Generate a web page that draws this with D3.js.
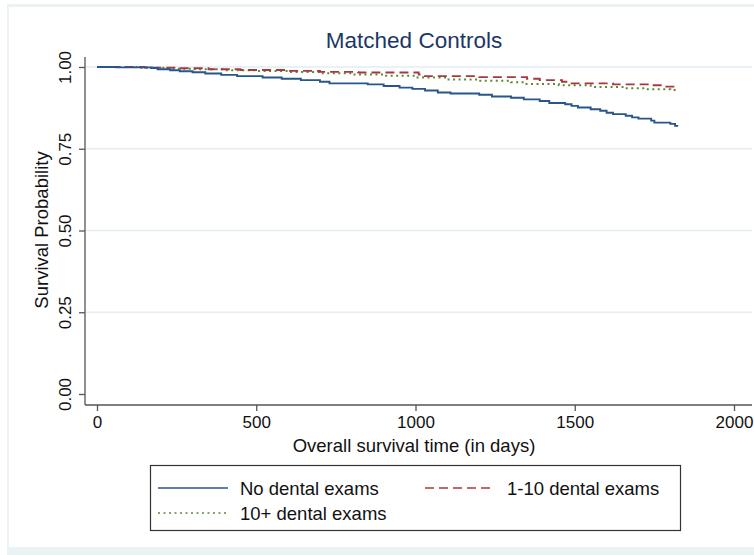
<!DOCTYPE html>
<html><head><meta charset="utf-8">
<script src="https://cdn.jsdelivr.net/npm/d3@7"></script>
<style>body{margin:0;background:#fff}svg{display:block}text{font-family:"Liberation Sans",Arial,sans-serif}</style>
</head><body>
<script>
// ---- data (step changes of Kaplan-Meier curves) ----
const seriesNames = ["No dental exams", "1-10 dental exams", "10+ dental exams"];
const noExamDays = [0,60,170,190,230,260,300,340,390,440,520,580,640,700,730,850,900,950,990,1030,1070,1110,1200,1240,1300,1340,1390,1420,1470,1490,1510,1550,1580,1600,1620,1660,1680,1700,1740,1750,1800,1815,1825];
const noExamSurv = [1.000,0.999,0.997,0.993,0.990,0.987,0.984,0.980,0.976,0.972,0.968,0.964,0.960,0.955,0.950,0.947,0.942,0.937,0.933,0.928,0.922,0.919,0.915,0.910,0.906,0.901,0.896,0.890,0.886,0.881,0.876,0.871,0.866,0.860,0.856,0.851,0.846,0.842,0.836,0.830,0.826,0.820,0.820];
const lowExamDays = [0,150,250,350,450,600,700,820,1010,1020,1200,1350,1390,1460,1480,1620,1740,1780,1825];
const lowExamSurv = [1.000,0.998,0.996,0.993,0.991,0.988,0.985,0.983,0.977,0.972,0.969,0.964,0.960,0.955,0.950,0.947,0.944,0.940,0.940];
const highExamDays = [0,130,220,300,400,500,600,700,800,900,1000,1100,1200,1300,1340,1450,1550,1650,1720,1800,1825];
const highExamSurv = [1.000,0.998,0.995,0.993,0.990,0.988,0.985,0.981,0.977,0.973,0.968,0.962,0.958,0.953,0.948,0.944,0.939,0.935,0.932,0.930,0.930];
const xTicks = [0, 500, 1000, 1500, 2000];
const yTicks = [0, 0.25, 0.5, 0.75, 1];
const yTickLabels = ["0.00", "0.25", "0.50", "0.75", "1.00"];

const W = 754, H = 555;
const svg = d3.select("body").append("svg").attr("width", W).attr("height", H);

// frame
svg.append("rect").attr("x", 7).attr("y", 4).attr("width", W).attr("height", H).attr("fill", "#eaf2f4");
svg.append("rect").attr("x", 9).attr("y", 7).attr("width", W).attr("height", 540).attr("fill", "#fff");

const x = d3.scaleLinear().domain([0, 2000]).range([97, 734]);
const y = d3.scaleLinear().domain([0, 1]).range([394, 67]);

// grid
svg.append("g").selectAll("line").data(yTicks.filter(d => d > 0)).join("line")
  .attr("x1", 86).attr("x2", 752).attr("y1", d => y(d)).attr("y2", d => y(d))
  .attr("stroke", "#e3edf3").attr("stroke-width", 1.5);

// axes
const xAxis = d3.axisBottom(x).tickValues(xTicks).tickSize(6).tickPadding(5).tickFormat(d3.format("d"));
const gx = svg.append("g").attr("transform", "translate(0,405)").call(xAxis);
gx.select(".domain").attr("d", "M85,0H752").attr("stroke", "#555").attr("stroke-width", 1.3);
gx.selectAll(".tick line").attr("stroke", "#555").attr("stroke-width", 1.3);
gx.selectAll(".tick text").attr("font-size", 17).attr("fill", "#111").attr("font-family", "Liberation Sans, Arial, sans-serif");

const yAxis = d3.axisLeft(y).tickValues(yTicks).tickSize(6).tickPadding(4).tickFormat((d, i) => yTickLabels[i]);
const gy = svg.append("g").attr("transform", "translate(85,0)").call(yAxis);
gy.select(".domain").attr("d", "M0,57V405").attr("stroke", "#555").attr("stroke-width", 1.3);
gy.selectAll(".tick line").attr("stroke", "#555").attr("stroke-width", 1.3);
gy.selectAll(".tick text").attr("font-size", 17).attr("fill", "#111").attr("font-family", "Liberation Sans, Arial, sans-serif")
  .attr("text-anchor", "middle").attr("transform", "translate(-20,0) rotate(-90)").attr("x", 0).attr("dy", "0.35em");

// titles
svg.append("text").attr("x", 414).attr("y", 48).attr("text-anchor", "middle").attr("font-size", 22.5)
  .attr("fill", "#1c3766").text("Matched Controls");
svg.append("text").attr("x", 414).attr("y", 452).attr("text-anchor", "middle").attr("font-size", 18.5)
  .attr("fill", "#111").text("Overall survival time (in days)");
svg.append("text").attr("transform", "translate(48,230) rotate(-90)").attr("text-anchor", "middle").attr("font-size", 18.5)
  .attr("fill", "#111").text("Survival Probability");

// curves
const styles = [
  {color: "#27568a", dash: null, w: 1.9},
  {color: "#a8383f", dash: "9,5", w: 1.9},
  {color: "#5b8a34", dash: "2,3.5", w: 2}
];
const series = [
  noExamDays.map((d, i) => [d, noExamSurv[i]]),
  lowExamDays.map((d, i) => [d, lowExamSurv[i]]),
  highExamDays.map((d, i) => [d, highExamSurv[i]])
];
const line = d3.line().x(d => x(d[0])).y(d => y(d[1])).curve(d3.curveStepAfter);
[2, 1, 0].forEach(i => {
  svg.append("path").attr("d", line(series[i])).attr("fill", "none")
    .attr("stroke", styles[i].color).attr("stroke-width", styles[i].w)
    .attr("stroke-dasharray", styles[i].dash);
});

// legend
const lg = svg.append("g");
lg.append("rect").attr("x", 150.5).attr("y", 465.5).attr("width", 530).attr("height", 65)
  .attr("fill", "#fff").attr("stroke", "#333").attr("stroke-width", 1.2);
const legPos = [[158, 488], [425, 488], [158, 513]];
seriesNames.forEach((name, i) => {
  const [lx, ly] = legPos[i];
  lg.append("line").attr("x1", lx).attr("x2", lx + 70).attr("y1", ly).attr("y2", ly)
    .attr("stroke", styles[i].color).attr("stroke-width", i === 2 ? 1.6 : 1.5).attr("stroke-dasharray", styles[i].dash);
  lg.append("text").attr("x", lx + 82).attr("y", ly + 6.5).attr("font-size", 18.5).attr("fill", "#111").text(name);
});
</script>
</body></html>
